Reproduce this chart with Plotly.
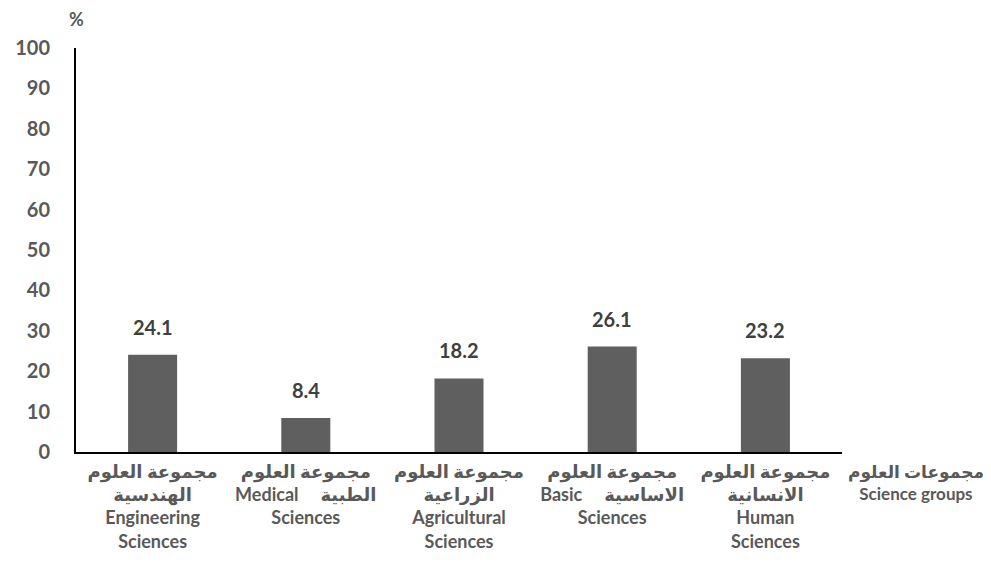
import plotly.graph_objects as go

# Data
categories = ["eng", "med", "agr", "bas", "hum"]
tick_lines = [
    ["مجموعة العلوم", "الهندسية", "Engineering", "Sciences"],
    ["مجموعة العلوم", "Medical     الطبية", "Sciences"],
    ["مجموعة العلوم", "الزراعية", "Agricultural", "Sciences"],
    ["مجموعة العلوم", "Basic     الاساسية", "Sciences"],
    ["مجموعة العلوم", "الانسانية", "Human", "Sciences"],
]
values = [24.1, 8.4, 18.2, 26.1, 23.2]
value_labels = ["24.1", "8.4", "18.2", "26.1", "23.2"]
y_ticks = [0, 10, 20, 30, 40, 50, 60, 70, 80, 90, 100]
axis_title_lines = ["مجموعات العلوم", "Science groups"]

FONT = "Lato, 'DejaVu Sans', sans-serif"
GRAY = "#595959"


fig = go.Figure(
    go.Bar(
        x=categories,
        y=values,
        width=0.32,
        marker=dict(color="#5f5f5f", line=dict(width=0)),
        hoverinfo="skip",
    )
)

for c, v, t in zip(categories, values, value_labels):
    fig.add_annotation(
        x=c, y=v, text=t, showarrow=False,
        yanchor="bottom", yshift=14,
        font=dict(family=FONT, size=20, color="#404040", weight="bold"),
    )

fig.add_annotation(
    xref="paper", yref="paper", x=0.0, y=1.0, yshift=29,
    text="%", showarrow=False, xanchor="center", yanchor="middle",
    font=dict(family=FONT, size=18, color=GRAY, weight="bold"),
)
fig.add_annotation(
    xref="paper", yref="paper", x=1.0, xshift=74, y=0.0, yshift=-30,
    text="<br>".join(axis_title_lines), showarrow=False,
    xanchor="center", yanchor="middle", align="center",
    font=dict(family=FONT, size=17, color=GRAY, weight="bold"),
)

# page has an 8px body margin: the figure starts at (8, 8) in the window
fig.update_layout(
    width=975, height=564,
    margin=dict(l=68, r=141, t=40, b=120),
    paper_bgcolor="white", plot_bgcolor="white",
    showlegend=False,
    font=dict(family=FONT, color=GRAY),
)
fig.update_xaxes(
    tickvals=categories,
    ticktext=["<br>".join(t) for t in tick_lines],
    tickfont=dict(family=FONT, size=18, color=GRAY, weight="bold"),
    showline=True, linecolor="black", linewidth=2,
    ticks="", showgrid=False, zeroline=False,
    range=[-0.5, 4.5], automargin=False,
    ticklabelstandoff=2,
)
fig.update_yaxes(
    range=[0, 100],
    tickvals=y_ticks,
    ticktext=[str(v) for v in y_ticks],
    tickfont=dict(family=FONT, size=20, color=GRAY, weight="bold"),
    showline=True, linecolor="black", linewidth=2,
    ticks="", showgrid=False, zeroline=False,
    ticklabelstandoff=20, automargin=False,
)

fig.write_html("out.html")
